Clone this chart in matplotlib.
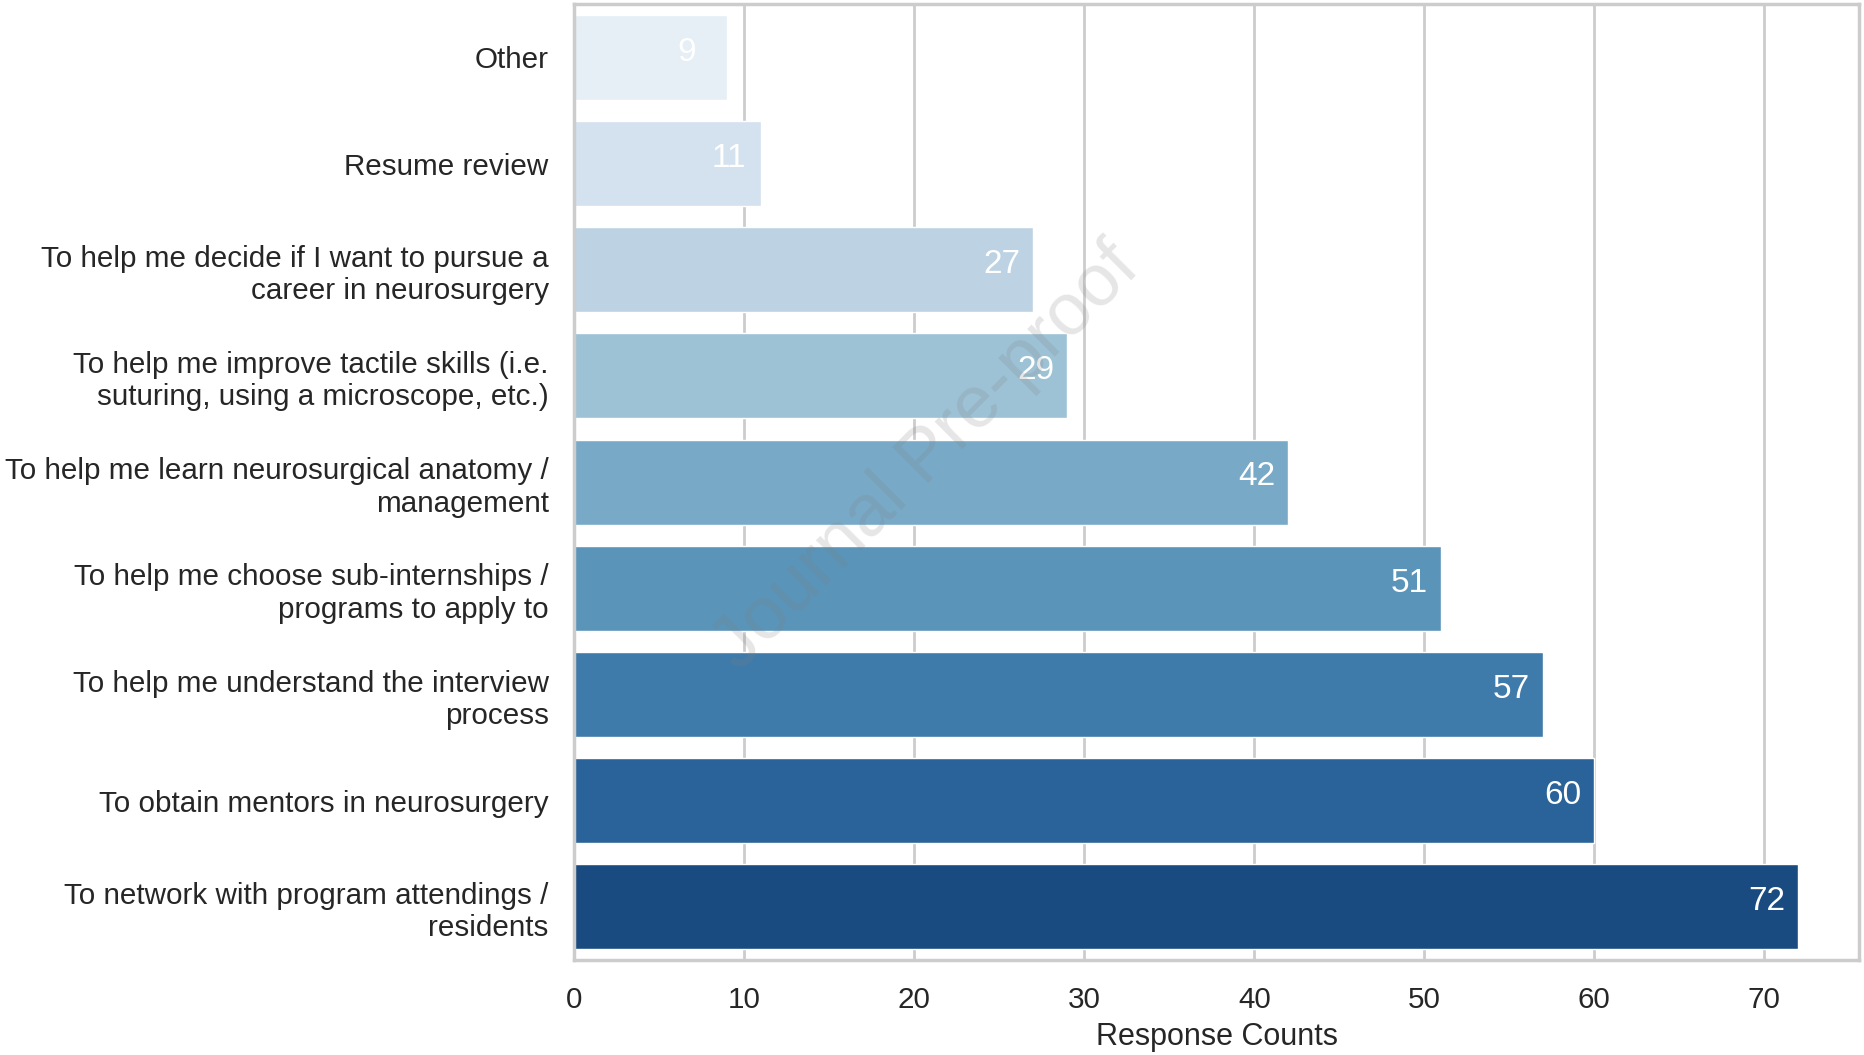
import matplotlib
matplotlib.use("Agg")
import matplotlib.pyplot as plt
import seaborn as sns

# survey answers, top to bottom
reasons = [
    "Other",
    "Resume review",
    "To help me decide if I want to pursue a\ncareer in neurosurgery",
    "To help me improve tactile skills (i.e.\nsuturing, using a microscope, etc.)",
    "To help me learn neurosurgical anatomy /\nmanagement",
    "To help me choose sub-internships /\nprograms to apply to",
    "To help me understand the interview\nprocess",
    "To obtain mentors in neurosurgery",
    "To network with program attendings /\nresidents",
]
counts = [9, 11, 27, 29, 42, 51, 57, 60, 72]

sns.set_style("whitegrid")
plt.rcParams['font.family'] = ['Liberation Sans', 'DejaVu Sans']

fig, ax = plt.subplots(figsize=(18.65, 10.55), dpi=100)
fig.subplots_adjust(left=0.308, right=0.997, top=0.996, bottom=0.09)

sns.barplot(x=counts, y=reasons, hue=reasons, palette="Blues", legend=False,
            orient="h", ax=ax, zorder=2)

for i, c in enumerate(counts):
    ax.text(c - 2.95, i - 0.05, str(c), color="white", fontsize=24,
            ha="left", va="center", zorder=3)

ax.set_xlim(0, 75.6)
ax.set_xticks(range(0, 80, 10))
ax.set_xlabel("Response Counts", fontsize=22, color="#262626", labelpad=6)
ax.set_ylabel("")
ax.tick_params(axis="x", labelsize=21.3, pad=15, colors="#262626")
ax.tick_params(axis="y", labelsize=21.3, pad=15, colors="#262626")
ax.grid(axis="x", color="#cccccc", linewidth=2, zorder=0)
ax.grid(axis="y", visible=False)
for s in ax.spines.values():
    s.set_color("#cccccc")
    s.set_linewidth(2.5)

# watermark
fig.text(0.497, 0.566, "Journal Pre-proof", fontsize=53, color="gray",
         alpha=0.2, rotation=45, ha="center", va="center", zorder=10)

fig.savefig("out.png")
